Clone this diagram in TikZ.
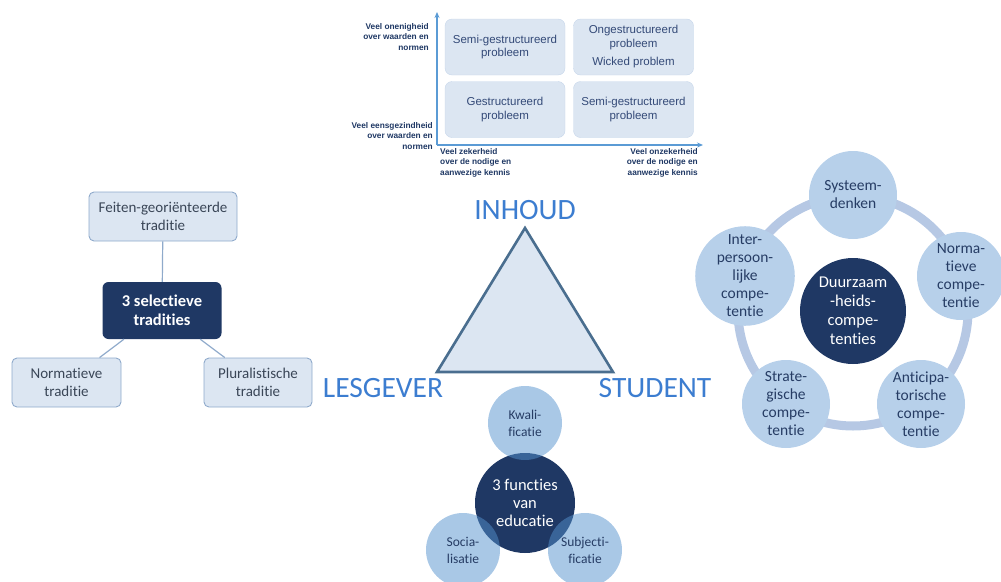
\documentclass[tikz,border=0pt]{standalone}
\usepackage{fontspec}
\setmainfont[RawFeature=-liga]{Carlito}
\newfontfamily\arialfont{Liberation Sans}
\usetikzlibrary{arrows.meta}
\definecolor{paleblue}{HTML}{DCE6F2}
\definecolor{paleedge}{HTML}{C6D6EA}
\definecolor{boxedge}{HTML}{8FAACB}
\definecolor{navy}{HTML}{1F3864}
\definecolor{axisblue}{HTML}{5B9BD5}
\definecolor{gridtext}{HTML}{344A78}
\definecolor{treetext}{HTML}{3A4657}
\definecolor{bigblue}{HTML}{3C7DD0}
\definecolor{triedge}{HTML}{4A6E8F}
\definecolor{circfill}{HTML}{B7D0EA}
\definecolor{ringcol}{HTML}{B6C8E4}
\definecolor{circtext}{HTML}{263C64}
\definecolor{overlapblue}{RGB}{83,145,205}
\begin{document}
\begin{tikzpicture}[x=1pt,y=-1pt,
  gridbox/.style={draw=paleedge,fill=paleblue,rounded corners=7pt,minimum width=120pt,minimum height=56pt,
    inner sep=0pt,align=center,text=gridtext,font=\arialfont\fontsize{11.5}{13.5}\selectfont},
  axislab/.style={inner sep=0pt,text=navy,font=\arialfont\bfseries\fontsize{8.3}{10.6}\selectfont},
  axisline/.style={draw=axisblue,line width=1.4pt,-{Stealth[length=6pt,width=5pt]}},
  treebox/.style={draw=boxedge,fill=paleblue,rounded corners=5pt,line width=0.9pt,inner sep=0pt,
    align=center,text=treetext,font=\fontsize{15}{18}\selectfont},
  treedark/.style={fill=navy,rounded corners=6pt,inner sep=0pt,align=center,text=white,
    font=\bfseries\fontsize{16.5}{19}\selectfont},
  treelink/.style={draw=boxedge,line width=1.2pt},
  bigword/.style={text=bigblue,inner sep=0pt,font=\fontsize{29.5}{31}\selectfont},
  compnode/.style={circle,fill=circfill,minimum size=88pt,inner sep=0pt,align=center,text=circtext,
    font=\fontsize{15.5}{18}\selectfont},
  corenode/.style={circle,fill=navy,minimum size=106pt,inner sep=0pt,align=center,text=white,
    font=\fontsize{16.5}{19}\selectfont},
  funcnode/.style={circle,fill=overlapblue,fill opacity=0.5,text opacity=1,minimum size=74pt,inner sep=0pt,
    align=center,text=circtext,font=\fontsize{13.5}{17}\selectfont},
  funccore/.style={circle,fill=navy,minimum size=100pt,inner sep=0pt}
]
\useasboundingbox (0,0) rectangle (1001,581);

% ---------- problem-type matrix ----------
\coordinate (org) at (437,145);
\coordinate (ytip) at (437,12);
\coordinate (xtip) at (703,145);
\draw[axisline] (org) -- (ytip);
\draw[axisline] (org) -- (xtip);

\node[gridbox] (semiA) at (505,47) {Semi-gestructureerd\\probleem};
\node[gridbox] (onge) at (633.5,47) {Ongestructureerd\\probleem\\[5pt]Wicked problem};
\node[gridbox] (gestr) at (505,109.5) {Gestructureerd\\probleem};
\node[gridbox] (semiB) at (633.5,109.5) {Semi-gestructureerd\\probleem};

\node[axislab,anchor=north east,align=right] (ylabtop) at (429,23) {Veel onenigheid\\over waarden en\\normen};
\node[axislab,anchor=north east,align=right] (ylabbot) at (433,122) {Veel eensgezindheid\\over waarden en\\normen};
\node[axislab,anchor=north west,align=left] (xlableft) at (440,148) {Veel zekerheid\\over de nodige en\\aanwezige kennis};
\node[axislab,anchor=north east,align=right] (xlabright) at (698,148) {Veel onzekerheid\\over de nodige en\\aanwezige kennis};

% ---------- didactic triangle ----------
\coordinate (tritop) at (525,228);
\coordinate (trileft) at (437,372);
\coordinate (triright) at (613,372);
\draw[draw=triedge,fill=paleblue,line width=2.6pt,line join=miter] (tritop) -- (trileft) -- (triright) -- cycle;
\node[bigword] (inhoud) at (525,210) {INHOUD};
\node[bigword] (lesgever) at (383,388) {LESGEVER};
\node[bigword] (student) at (655,388) {STUDENT};

% ---------- selective traditions ----------
\node[treebox,minimum width=148pt,minimum height=49pt] (feiten) at (163,216.5) {Feiten-georiënteerde\\traditie};
\node[treedark,minimum width=119pt,minimum height=57pt] (sel) at (162,310.5) {3 selectieve\\tradities};
\node[treebox,minimum width=109pt,minimum height=49pt] (norm) at (66.5,382.5) {Normatieve\\traditie};
\node[treebox,minimum width=108pt,minimum height=49pt] (plur) at (258,382.5) {Pluralistische\\traditie};
\draw[treelink] (feiten) -- (sel);
\draw[treelink] (sel) -- (norm);
\draw[treelink] (sel) -- (plur);

% ---------- sustainability competences ----------
\coordinate (ringc) at (853,311);
\draw[draw=ringcol,line width=9pt] (ringc) circle[radius=115pt];
\node[corenode] (duurz) at (ringc) {Duurzaam\\-heids-\\compe-\\tenties};
\node[compnode] (syst) at (853,195) {Systeem-\\denken};
\node[compnode] (normc) at (961,276) {Norma-\\tieve\\compe-\\tentie};
\node[compnode] (antic) at (921,404) {Anticipa-\\torische\\compe-\\tentie};
\node[compnode] (strat) at (786,404) {Strate-\\gische\\compe-\\tentie};
\node[compnode] (inter) at (745,276) {Inter-\\persoon-\\lijke\\compe-\\tentie};

% ---------- functions of education ----------
\node[funccore] (func) at (525,503) {};
\node[funcnode] (kwal) at (525,423) {Kwali-\\ficatie};
\node[funcnode] (soc) at (463,550) {Socia-\\lisatie};
\node[funcnode] (subj) at (585,550) {Subjecti-\\ficatie};
\node[align=center,text=white,inner sep=0pt,font=\fontsize{16.5}{18}\selectfont] (functext) at (func) {3 functies\\van\\educatie};
\end{tikzpicture}
\end{document}
